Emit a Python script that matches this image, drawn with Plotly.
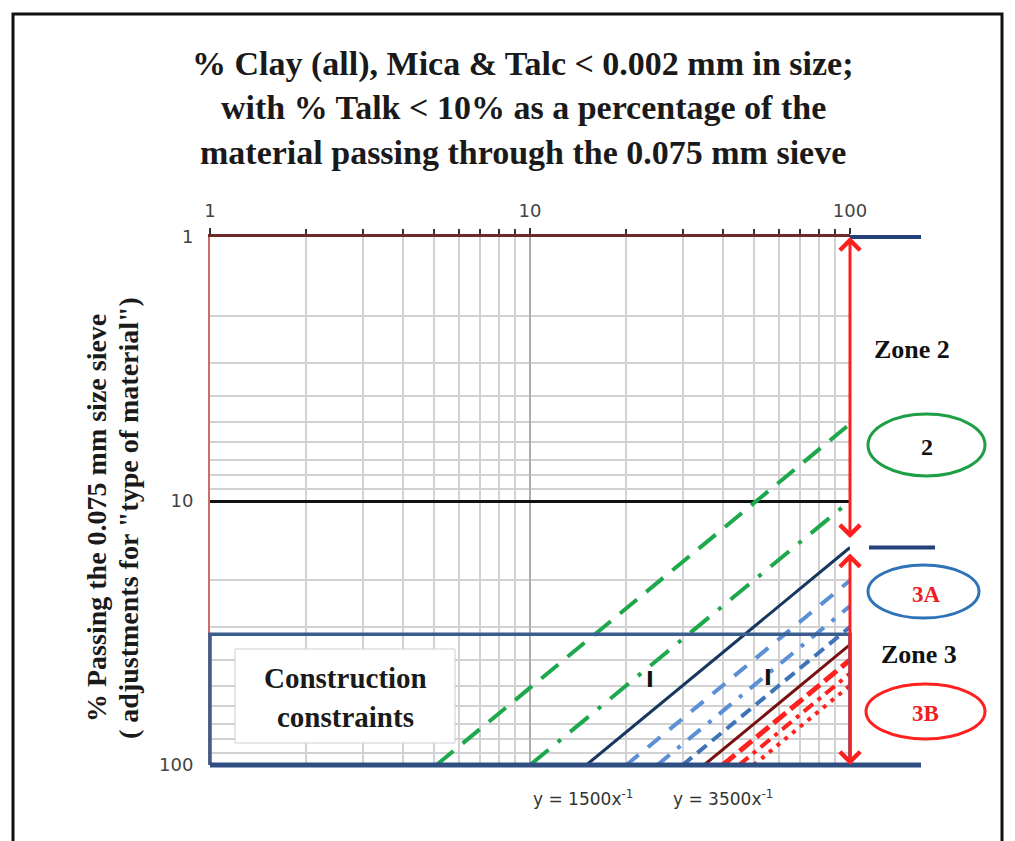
import numpy as np
import plotly.graph_objects as go

# ---- data ---------------------------------------------------------------
# each limit line is straight on the log-log grid: start at y=100, end at x=100
line_k = [500, 1000, 1500, 2000, 2500, 3000, 3500, 4000, 4500, 5000]
line_x0 = [5.1, 10, 15, 20, 25, 30, 35, 40, 45, 50]       # x where line meets y = 100
line_y1 = [5.1, 10, 15, 20, 25, 30, 35, 40, 45, 50]       # y where line meets x = 100
line_colors = ["#1ea84c", "#1ea84c", "#17375e", "#5b8fd6", "#5b8fd6", "#3f73b8",
               "#7a0f10", "#ff2020", "#ff2020", "#ff2020"]
line_widths = [4, 4, 3, 4, 4, 4, 3, 5, 4, 4]
line_dash = ["22px,12px", "24px,12px,4px,12px", "solid", "16px,12px", "16px,10px,4px,10px",
             "12px,7px", "solid", "16px,6px", "12px,6px,4px,6px", "4px,6px"]

x_edge = 100          # right edge of the chart
y_edge = 100          # bottom edge of the chart
zone_split = 15       # y value where zone 2 / zone 3 meet at x = 100
zone2_arrow_end = 14
zone3_arrow_end = 15.6
constraint_top = 32   # top of "construction constraints" band

marker_x = [23.7, 55.5]   # the small "I" marks
marker_y = [47.5, 46.8]
eq_labels = ["y = 1500x<sup>-1</sup>", "y = 3500x<sup>-1</sup>"]
eq_x = [14.6, 40]

title_lines = ["% Clay (all), Mica &amp; Talc &lt; 0.002 mm in size;",
               "with % Talk &lt; 10% as a percentage of the",
               "material passing through the 0.075 mm sieve"]
ytitle_lines = ["% Passing the 0.075 mm size sieve",
                '( adjustments for "type of material")']

# ---- layout geometry (screen pixels of the reference) -----------------------
OFF = 8                      # page body margin of the html page
W, H = 1015 - OFF, 841 - OFF
L, R, T, B = 210, 850, 237, 765


def fx(px):
    return (px - L) / (R - L)


def fy(py):
    return (B - py) / (B - T)


SERIF = "Liberation Serif"
SANS = "DejaVu Sans"

fig = go.Figure()

for i, k in enumerate(line_k):
    fig.add_trace(go.Scatter(
        x=[line_x0[i], x_edge], y=[y_edge, line_y1[i]],
        mode="lines", name=f"k={k}",
        line=dict(color=line_colors[i], width=line_widths[i], dash=line_dash[i]),
        hoverinfo="skip"))

fig.update_layout(
    width=W, height=H,
    margin=dict(l=L - OFF, r=W - (R - OFF), t=T - OFF, b=H - (B - OFF), pad=0),
    plot_bgcolor="white", paper_bgcolor="white",
    showlegend=False,
)

fig.update_xaxes(
    type="log", range=[0, 2], side="top", dtick=1,
    showgrid=True, gridcolor="#adadad", gridwidth=1.5,
    minor=dict(dtick="D1", showgrid=True, gridcolor="#d2d2d2", gridwidth=1.5,
               ticks="outside", ticklen=5, tickcolor="#333", tickwidth=1.5),
    ticks="outside", ticklen=6, tickcolor="#333", tickwidth=1.5,
    showline=True, linecolor="#6e2a2a", linewidth=3,
    tickfont=dict(family=SANS, size=18, color="#444"),
    ticklabelstandoff=4, zeroline=False,
)
fig.update_yaxes(
    type="log", range=[2, 0], dtick=1,
    showgrid=True, gridcolor="#111", gridwidth=3,
    minor=dict(dtick="D1", showgrid=True, gridcolor="#d2d2d2", gridwidth=1.5),
    ticks="", showline=True, linecolor="#cf6b6b", linewidth=2,
    tickfont=dict(family=SANS, size=18, color="#444"),
    ticklabelstandoff=11, zeroline=False,
)

shapes = []
# construction constraints band
shapes.append(dict(type="rect", xref="x domain", yref="y", x0=0, x1=1,
                   y0=constraint_top, y1=y_edge,
                   line=dict(color="#3b5e8f", width=3.5), layer="above"))
# white label box
shapes.append(dict(type="rect", xref="paper", yref="paper",
                   x0=fx(235), x1=fx(455), y0=fy(743), y1=fy(649),
                   fillcolor="white", line=dict(color="#cfcfcf", width=1), layer="above"))
# navy lines at top / bottom extending to the right, plus zone split mark
shapes.append(dict(type="line", xref="x domain", yref="y domain", x0=0, x1=fx(921),
                   y0=0, y1=0, line=dict(color="#2f4f82", width=5), layer="above"))
shapes.append(dict(type="line", xref="x domain", yref="y domain", x0=1, x1=fx(921),
                   y0=1, y1=1, line=dict(color="#23427a", width=4), layer="above"))
shapes.append(dict(type="line", xref="x domain", yref="y", x0=fx(869), x1=fx(935),
                   y0=zone_split, y1=zone_split,
                   line=dict(color="#23427a", width=4), layer="above"))
# zone ellipses
shapes.append(dict(type="circle", xref="paper", yref="paper",
                   x0=fx(868), x1=fx(985), y0=fy(476), y1=fy(414),
                   line=dict(color="#1e9e45", width=3)))
shapes.append(dict(type="circle", xref="paper", yref="paper",
                   x0=fx(868), x1=fx(979), y0=fy(618), y1=fy(565),
                   line=dict(color="#2e72b8", width=3)))
shapes.append(dict(type="circle", xref="paper", yref="paper",
                   x0=fx(866), x1=fx(985), y0=fy(739), y1=fy(684),
                   line=dict(color="#ff2020", width=3)))
# outer frame of the picture
shapes.append(dict(type="rect", xref="paper", yref="paper",
                   x0=fx(13), x1=fx(1002), y0=fy(900), y1=fy(14),
                   line=dict(color="#111", width=3)))
fig.update_layout(shapes=shapes)

ann = []
for i, t in enumerate(title_lines):
    ann.append(dict(text=t, xref="paper", yref="paper", x=fx(523), y=fy(64 + 44 * i),
                    xanchor="center", yanchor="middle", showarrow=False,
                    font=dict(family=SERIF, size=34, color="#1a1a1a", weight="bold")))
for i, t in enumerate(ytitle_lines):
    ann.append(dict(text=t, xref="paper", yref="paper", x=fx(96 + 32 * i), y=fy(518),
                    xanchor="center", yanchor="middle", textangle=-90, showarrow=False,
                    font=dict(family=SERIF, size=28, color="#1a1a1a", weight="bold")))
for i, t in enumerate(["Construction", "constraints"]):
    ann.append(dict(text=t, xref="paper", yref="paper", x=fx(345), y=fy(678 + 39 * i),
                    xanchor="center", yanchor="middle", showarrow=False,
                    font=dict(family=SERIF, size=29, color="#1a1a1a", weight="bold")))
for mx, my in zip(marker_x, marker_y):
    ann.append(dict(text="I", xref="x", yref="y", x=np.log10(mx), y=np.log10(my),
                    xanchor="center", yanchor="middle", showarrow=False,
                    font=dict(family=SANS, size=21, color="#111", weight="bold")))
for t, ex in zip(eq_labels, eq_x):
    ann.append(dict(text=t, xref="x", yref="paper", x=np.log10(ex), y=fy(798),
                    xanchor="center", yanchor="middle", showarrow=False,
                    font=dict(family=SANS, size=17, color="#333")))
# zone labels
zone_txt = [("Zone 2", 912, 349, "#111", 26), ("Zone 3", 919, 654, "#111", 26),
            ("2", 927, 447, "#111", 24), ("3A", 926, 594, "#ee2020", 23),
            ("3B", 925, 713, "#ee2020", 23)]
for t, px, py, c, s in zone_txt:
    ann.append(dict(text=t, xref="paper", yref="paper", x=fx(px), y=fy(py),
                    xanchor="center", yanchor="middle", showarrow=False,
                    font=dict(family=SERIF, size=s, color=c, weight="bold")))
# red zone arrows along x = 100
ann.append(dict(text="", xref="x", yref="y", axref="x", ayref="y",
                x=np.log10(x_edge), y=np.log10(1), ax=np.log10(x_edge), ay=np.log10(zone2_arrow_end),
                showarrow=True, arrowside="end+start", arrowhead=4, startarrowhead=4,
                arrowsize=1.3, startarrowsize=1.3, arrowwidth=3, arrowcolor="#ff1e1e"))
ann.append(dict(text="", xref="x", yref="y", axref="x", ayref="y",
                x=np.log10(x_edge), y=np.log10(y_edge), ax=np.log10(x_edge), ay=np.log10(zone3_arrow_end),
                showarrow=True, arrowside="end+start", arrowhead=4, startarrowhead=4,
                arrowsize=1.3, startarrowsize=1.3, arrowwidth=3, arrowcolor="#ff1e1e"))
fig.update_layout(annotations=ann)

fig.write_html("out.html")
